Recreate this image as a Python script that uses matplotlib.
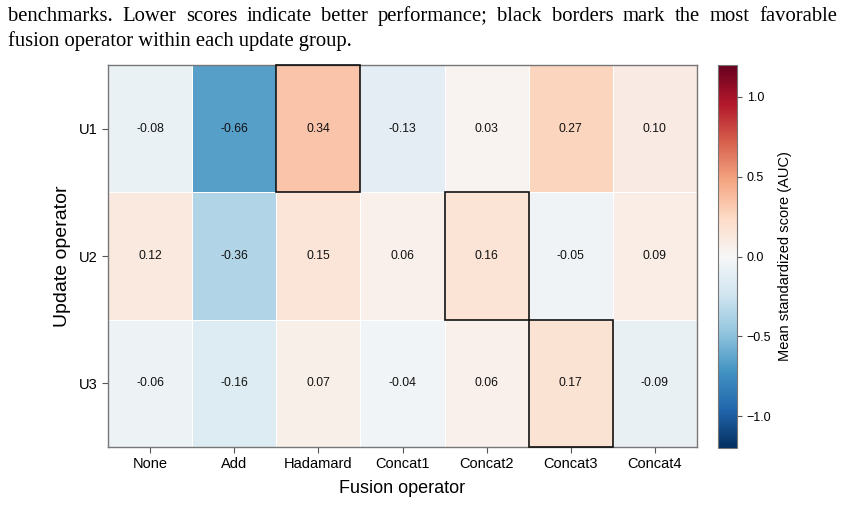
import numpy as np
import matplotlib.pyplot as plt
from matplotlib.patches import Rectangle

plt.rcParams['font.family'] = ['Liberation Sans', 'DejaVu Sans']

fusion_ops = ["None", "Add", "Hadamard", "Concat1", "Concat2", "Concat3", "Concat4"]
update_ops = ["U1", "U2", "U3"]
u1 = [-0.08, -0.66, 0.34, -0.13, 0.03, 0.27, 0.10]
u2 = [0.12, -0.36, 0.15, 0.06, 0.16, -0.05, 0.09]
u3 = [-0.06, -0.16, 0.07, -0.04, 0.06, 0.17, -0.09]
scores = np.array([u1, u2, u3])

caption1 = ("benchmarks. Lower scores indicate better performance; black borders mark the most favorable")
caption2 = "fusion operator within each update group."

W, H = 842, 505
fig = plt.figure(figsize=(W / 100, H / 100), dpi=100)
ax = fig.add_axes([108/W, 1 - 447/H, (697-108)/W, (447-65)/H])
cax = fig.add_axes([718/W, 1 - 448/H, (737-718)/W, (448-65)/H])

mesh = ax.pcolormesh(scores, cmap="RdBu_r", vmin=-1.2, vmax=1.2,
                     edgecolors="white", linewidth=0.6)
ax.set_xlim(0, scores.shape[1])
ax.set_ylim(scores.shape[0], 0)

for i in range(scores.shape[0]):
    for j in range(scores.shape[1]):
        ax.text(j + 0.5, i + 0.5, f"{scores[i, j]:.2f}", ha="center", va="center",
                fontsize=8.8, color="#111111")
    best = int(np.argmax(scores[i]))
    ax.add_patch(Rectangle((best, i), 1, 1, fill=False, edgecolor="#111111", lw=1.2,
                           zorder=3, clip_on=False))

ax.set_xticks(np.arange(scores.shape[1]) + 0.5)
ax.set_xticklabels(fusion_ops, fontsize=10.5)
ax.set_yticks(np.arange(scores.shape[0]) + 0.5)
ax.set_yticklabels(update_ops, fontsize=10.5)
ax.tick_params(length=4.5, color="#555555", pad=3)
ax.set_xlabel("Fusion operator", fontsize=13, labelpad=6)
ax.set_ylabel("Update operator", fontsize=14, labelpad=6)
for s in ax.spines.values():
    s.set_color("#777777")
    s.set_linewidth(1)

cb = fig.colorbar(mesh, cax=cax)
cb.set_ticks([-1.0, -0.5, 0.0, 0.5, 1.0])
cb.ax.tick_params(labelsize=9, length=3.5, color="#555555")
cb.set_label("Mean standardized score (AUC)", fontsize=10.5, labelpad=5)
cb.outline.set_edgecolor("#777777")

# caption, first line justified between the page margins
cap_font = dict(family="Liberation Serif", fontsize=14.9, va="baseline")
fig.canvas.draw()
renderer = fig.canvas.get_renderer()
words = caption1.split()
left, right = 8, 837
texts = [fig.text(0, 1 - 21/H, w, ha="left", **cap_font) for w in words]
widths = [t.get_window_extent(renderer).width for t in texts]
gap = (right - left - sum(widths)) / (len(words) - 1)
x = left
for t, w in zip(texts, widths):
    t.set_x(x / W)
    x += w + gap
fig.text(left / W, 1 - 46/H, caption2, ha="left", **cap_font)

fig.savefig("out.png", dpi=100)
